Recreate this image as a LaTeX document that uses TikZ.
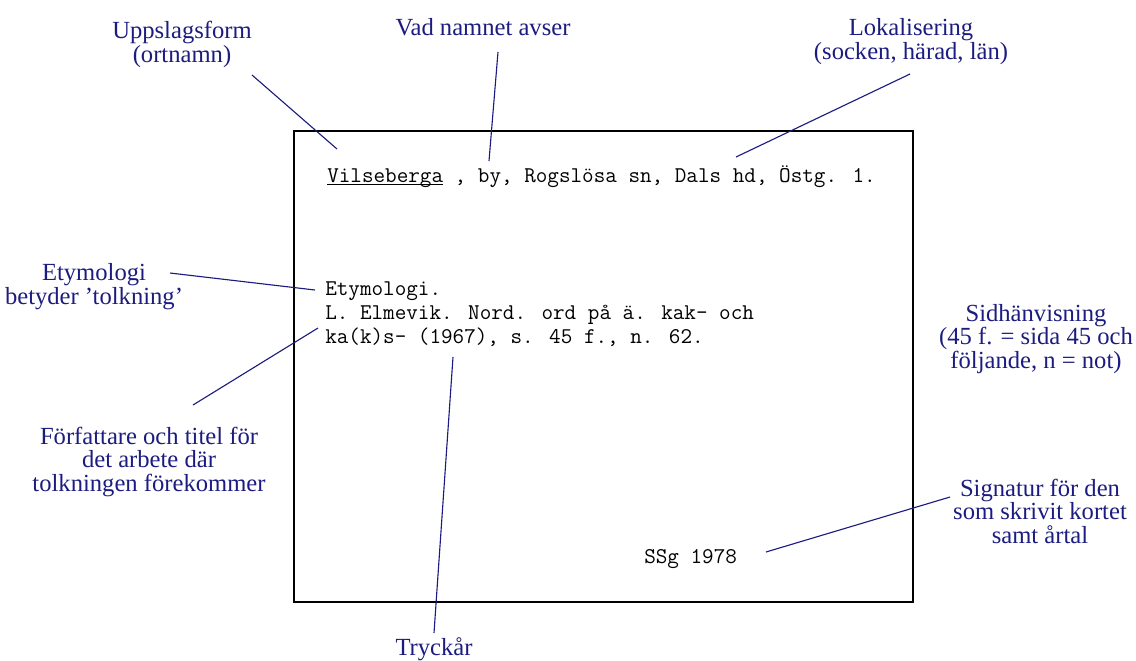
\documentclass[tikz,border=0pt]{standalone}
\usepackage{fontspec}
\setmainfont{Liberation Serif}
\definecolor{notecol}{RGB}{28,28,128}
\newcommand\cardul[1]{\setbox0\hbox{#1}\rlap{\rule[-2.4pt]{\wd0}{0.7pt}}#1}
\begin{document}
\begin{tikzpicture}[x=0.025cm, y=-0.025cm,
    note/.style={color=notecol, font=\fontsize{17.5}{16.5}\selectfont, align=center, inner sep=0pt, anchor=base},
    cardtext/.style={font=\fontsize{16}{17}\selectfont\ttfamily, align=left, inner sep=0pt, anchor=base west},
    pointer/.style={color=notecol, line width=0.8pt}]
    \useasboundingbox (0,0) rectangle (1136,660);
    \draw[line width=1.4pt] (294,131) rectangle (913,602);

    \node[cardtext] (entry) at (327,182) {\cardul{Vilseberga} , by, Rogslösa sn, Dals hd, Östg. 1.};
    \node[cardtext] (source) at (325,343) {Etymologi.\\L. Elmevik. Nord. ord på ä. kak- och\\ka(k)s- (1967), s. 45 f., n. 62.};
    \node[cardtext] (sign) at (644,563) {SSg 1978};

    \node[note] (uppslag) at (182,62) {Uppslagsform\\(ortnamn)};
    \node[note] (avser) at (483,35) {Vad namnet avser};
    \node[note] (lokal) at (911,59) {Lokalisering\\(socken, härad, län)};
    \node[note] (etymnote) at (94,304) {Etymologi\\betyder ’tolkning’};
    \node[note] (forf) at (149,491) {Författare och titel för\\det arbete där\\tolkningen förekommer};
    \node[note] (sidhan) at (1036,368) {Sidhänvisning\\(45 f. = sida 45 och\\följande, n = not)};
    \node[note] (signatur) at (1040,543) {Signatur för den\\som skrivit kortet\\samt årtal};
    \node[note] (tryck) at (434,655) {Tryckår};

    \coordinate (uppslag-a) at (252,75);
    \coordinate (uppslag-b) at (337,149);
    \coordinate (avser-a) at (498,52);
    \coordinate (avser-b) at (489,161);
    \coordinate (lokal-a) at (910,74);
    \coordinate (lokal-b) at (736,157);
    \coordinate (etym-a) at (170,273);
    \coordinate (etym-b) at (315,290);
    \coordinate (forf-a) at (193,405);
    \coordinate (forf-b) at (318,328);
    \coordinate (tryck-a) at (434,633);
    \coordinate (tryck-b) at (453,357);
    \coordinate (sign-a) at (950,497);
    \coordinate (sign-b) at (766,552);

    \draw[pointer] (uppslag-a) -- (uppslag-b);
    \draw[pointer] (avser-a) -- (avser-b);
    \draw[pointer] (lokal-a) -- (lokal-b);
    \draw[pointer] (etym-a) -- (etym-b);
    \draw[pointer] (forf-a) -- (forf-b);
    \draw[pointer] (tryck-a) -- (tryck-b);
    \draw[pointer] (sign-a) -- (sign-b);
\end{tikzpicture}
\end{document}
